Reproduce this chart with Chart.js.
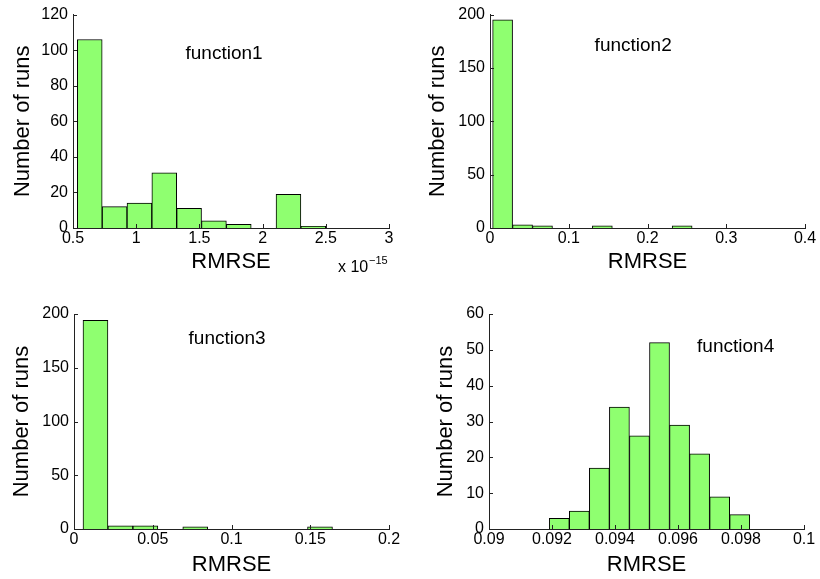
<!DOCTYPE html>
<html>
<head>
<meta charset="utf-8">
<script src="https://cdn.jsdelivr.net/npm/chart.js@4.4.1/dist/chart.umd.min.js"></script>
<style>
  body { margin: 0; background: #fff; width: 820px; height: 579px; overflow: hidden; position: relative; }
  canvas { position: absolute; }
</style>
</head>
<body>
<canvas id="f1" width="410" height="290" style="left:0;top:0"></canvas>
<canvas id="f2" width="410" height="290" style="left:410px;top:0"></canvas>
<canvas id="f3" width="410" height="289" style="left:0;top:290px"></canvas>
<canvas id="f4" width="410" height="289" style="left:410px;top:290px"></canvas>
<script>
// bin centres (function1 is in units of 1e-15)
const f1Bins = [0.6326, 0.8291, 1.0256, 1.2221, 1.4186, 1.6151, 1.8116, 2.0081, 2.2046, 2.4011];
const f1Runs = [106, 12, 14, 31, 11, 4, 2, 0, 19, 1];
const f1XTicks = [0.5, 1, 1.5, 2, 2.5, 3];
const f1YTicks = [0, 20, 40, 60, 80, 100, 120];

const f2Bins = [0.01601, 0.04134, 0.06667, 0.09200, 0.11733, 0.14266, 0.16799, 0.19332, 0.21865, 0.24398];
const f2Runs = [195, 3, 2, 0, 0, 2, 0, 0, 0, 2];
const f2XTicks = [0, 0.1, 0.2, 0.3, 0.4];
const f2YTicks = [0, 50, 100, 150, 200];

const f3Bins = [0.01363, 0.02947, 0.04531, 0.06115, 0.07699, 0.09283, 0.10867, 0.12451, 0.14035, 0.15619];
const f3Runs = [194, 3, 3, 0, 2, 0, 0, 0, 0, 2];
const f3XTicks = [0, 0.05, 0.1, 0.15, 0.2];
const f3YTicks = [0, 50, 100, 150, 200];

const f4Bins = [0.092231, 0.092868, 0.093504, 0.094140, 0.094777, 0.095413, 0.096050, 0.096686, 0.097323, 0.097959];
const f4Runs = [3, 5, 17, 34, 26, 52, 29, 21, 9, 4];
const f4XTicks = [0.09, 0.092, 0.094, 0.096, 0.098, 0.1];
const f4YTicks = [0, 10, 20, 30, 40, 50, 60];

const FONT = '"Liberation Sans", Arial, sans-serif';
const fmt = v => String(+Number(v).toFixed(4));

// matlab style: inward ticks, text label inside the axes, optional exponent
const matlabAxes = {
  id: 'matlabAxes',
  afterDraw(chart, args, opts) {
    const { ctx, chartArea: a, scales: { x, y } } = chart;
    ctx.save();
    ctx.strokeStyle = '#222';
    ctx.lineWidth = 1;
    ctx.beginPath();
    x.ticks.forEach(t => {
      const px = Math.round(x.getPixelForValue(t.value)) + 0.5;
      ctx.moveTo(px, a.bottom);
      ctx.lineTo(px, a.bottom - 4);
    });
    y.ticks.forEach(t => {
      const py = Math.round(y.getPixelForValue(t.value)) + 0.5;
      ctx.moveTo(a.left, py);
      ctx.lineTo(a.left + 4, py);
    });
    ctx.stroke();

    ctx.fillStyle = '#000';
    ctx.font = '19px ' + FONT;
    ctx.textAlign = 'center';
    ctx.textBaseline = 'middle';
    ctx.fillText(opts.text, x.getPixelForValue(opts.x), y.getPixelForValue(opts.y));

    if (opts.exponent) {
      ctx.textAlign = 'left';
      ctx.textBaseline = 'alphabetic';
      ctx.font = '16px ' + FONT;
      ctx.fillText('x 10', a.right - 51, a.bottom + 44);
      ctx.font = '11px ' + FONT;
      ctx.fillText(opts.exponent, a.right - 20, a.bottom + 36);
    }
    ctx.restore();
  }
};

function makeHist(id, bins, runs, xTicks, yTicks, box, note) {
  return new Chart(document.getElementById(id), {
    type: 'bar',
    data: {
      datasets: [{
        data: bins.map((b, i) => ({ x: b, y: runs[i] })),
        backgroundColor: 'rgb(143,255,112)',
        borderColor: '#000',
        borderWidth: 1,
        barPercentage: 1,
        categoryPercentage: 1
      }]
    },
    options: {
      responsive: false,
      animation: false,
      layout: { padding: { left: 0, top: box.top, right: box.right, bottom: 0 } },
      plugins: { legend: { display: false }, tooltip: { enabled: false }, matlabAxes: note },
      scales: {
        x: {
          type: 'linear',
          offset: false,
          min: xTicks[0],
          max: xTicks[xTicks.length - 1],
          afterBuildTicks: s => { s.ticks = xTicks.map(v => ({ value: v })); },
          afterFit: s => { s.height = box.xH; },
          grid: { display: false, drawTicks: false, offset: false },
          border: { display: true, color: '#222', width: 1 },
          ticks: { autoSkip: false, maxRotation: 0, padding: 1, color: '#000',
                   font: { family: FONT, size: 16 }, callback: fmt },
          title: { display: true, text: 'RMRSE', color: '#000',
                   font: { family: FONT, size: 22 }, padding: { top: 0, bottom: box.xTitle } }
        },
        y: {
          min: yTicks[0],
          max: yTicks[yTicks.length - 1],
          afterBuildTicks: s => { s.ticks = yTicks.map(v => ({ value: v })); },
          afterFit: s => { s.width = box.yW; },
          grid: { display: false, drawTicks: false },
          border: { display: true, color: '#222', width: 1 },
          ticks: { autoSkip: false, padding: 5, color: '#000',
                   font: { family: FONT, size: 16 }, callback: fmt },
          title: { display: true, text: 'Number of runs', color: '#000',
                   font: { family: FONT, size: 22 }, padding: { top: box.yTitle, bottom: 0 } }
        }
      }
    },
    plugins: [matlabAxes]
  });
}

makeHist('f1', f1Bins, f1Runs, f1XTicks, f1YTicks,
  { yW: 73, xH: 62, top: 11, right: 21, xTitle: 15, yTitle: 10 },
  { text: 'function1', x: 1.695, y: 98, exponent: '\u221215' });
makeHist('f2', f2Bins, f2Runs, f2XTicks, f2YTicks,
  { yW: 80, xH: 62, top: 11, right: 15, xTitle: 15, yTitle: 15 },
  { text: 'function2', x: 0.1818, y: 170.5 });
makeHist('f3', f3Bins, f3Runs, f3XTicks, f3YTicks,
  { yW: 74, xH: 50, top: 24, right: 21, xTitle: 1, yTitle: 9 },
  { text: 'function3', x: 0.0972, y: 177 });
makeHist('f4', f4Bins, f4Runs, f4XTicks, f4YTicks,
  { yW: 79, xH: 50, top: 24, right: 16, xTitle: 1, yTitle: 23 },
  { text: 'function4', x: 0.09783, y: 50.8 });
</script>
</body>
</html>
